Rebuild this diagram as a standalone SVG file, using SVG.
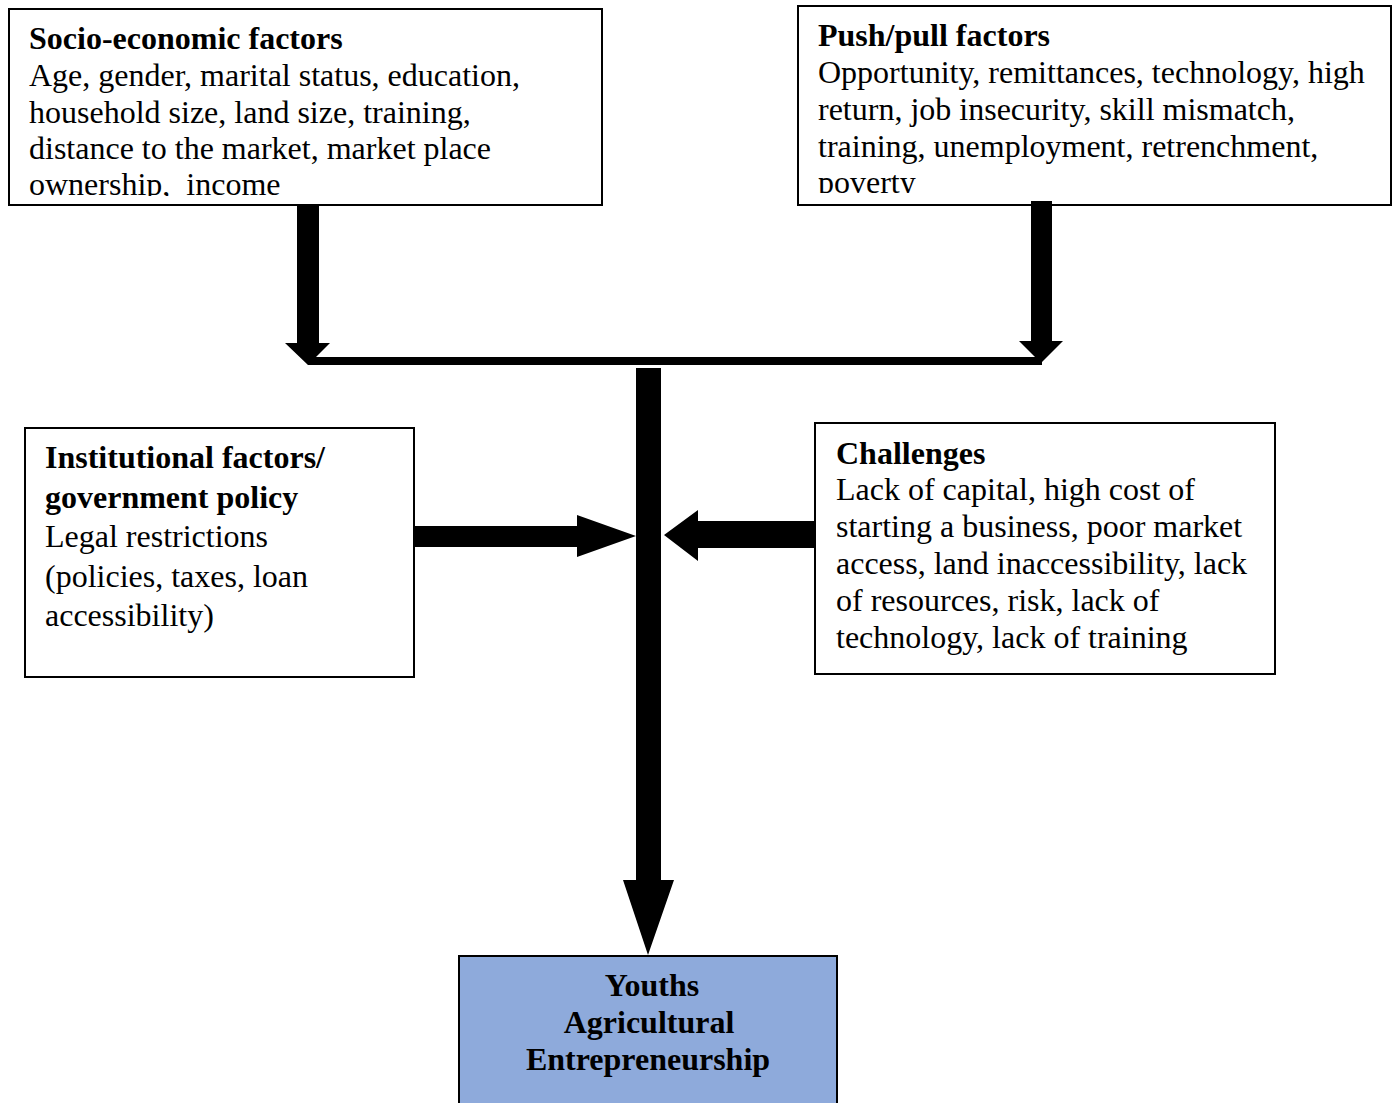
<svg xmlns="http://www.w3.org/2000/svg" width="1397" height="1103" viewBox="0 0 1397 1103">
<style>
.box{fill:#fff;stroke:#000;stroke-width:2}
.t{font-family:"Liberation Serif","Times New Roman",serif;font-size:32px;fill:#000}
.b{font-weight:bold}
.arr{fill:#000}
</style>
<defs>
<clipPath id="c1"><rect x="10" y="10" width="591" height="186"/></clipPath>
<clipPath id="c2"><rect x="799" y="7" width="591" height="186"/></clipPath>
</defs>
<rect width="1397" height="1103" fill="#fff"/>
<g id="socio">
<rect class="box" x="9" y="9" width="593" height="196"/>
<g clip-path="url(#c1)">
<text class="t b" x="29" y="49">Socio-economic factors</text>
<text class="t" x="29" y="86">Age, gender, marital status, education,</text>
<text class="t" x="29" y="123">household size, land size, training,</text>
<text class="t" x="29" y="159">distance to the market, market place</text>
<text class="t" x="29" y="195">ownership,&#160; income</text>
</g>
</g>
<g id="pushpull">
<rect class="box" x="798" y="6" width="593" height="199"/>
<g clip-path="url(#c2)">
<text class="t b" x="818" y="46">Push/pull factors</text>
<text class="t" x="818" y="83">Opportunity, remittances, technology, high</text>
<text class="t" x="818" y="120">return, job insecurity, skill mismatch,</text>
<text class="t" x="818" y="157">training, unemployment, retrenchment,</text>
<text class="t" x="818" y="193">poverty</text>
</g>
</g>
<g id="institutional">
<rect class="box" x="25" y="428" width="389" height="249"/>
<text class="t b" x="45" y="468">Institutional factors/</text>
<text class="t b" x="45" y="508">government policy</text>
<text class="t" x="45" y="547">Legal restrictions</text>
<text class="t" x="45" y="587">(policies, taxes, loan</text>
<text class="t" x="45" y="626">accessibility)</text>
</g>
<g id="challenges">
<rect class="box" x="815" y="423" width="460" height="251"/>
<text class="t b" x="836" y="464">Challenges</text>
<text class="t" x="836" y="500">Lack of capital, high cost of</text>
<text class="t" x="836" y="537">starting a business, poor market</text>
<text class="t" x="836" y="574">access, land inaccessibility, lack</text>
<text class="t" x="836" y="611">of resources, risk, lack of</text>
<text class="t" x="836" y="648">technology, lack of training</text>
</g>
<g id="outcome">
<rect x="459" y="956" width="378" height="160" fill="#8EAADB" stroke="#000" stroke-width="2"/>
<text class="t b" x="652" y="996" text-anchor="middle">Youths</text>
<text class="t b" x="649" y="1033" text-anchor="middle">Agricultural</text>
<text class="t b" x="648" y="1070" text-anchor="middle">Entrepreneurship</text>
</g>
<g id="connectors">
<polygon class="arr" points="297,205 319,205 319,343 330,343 308,365 285,343 297,343"/>
<polygon class="arr" points="1031,201 1052,201 1052,341 1063,341 1041,363 1019,341 1031,341"/>
<rect class="arr" x="308" y="357" width="734" height="8"/>
<polygon class="arr" points="636,368 661,368 661,880 674,880 648,955 623,880 636,880"/>
<polygon class="arr" points="415,526 577,526 577,515 636,536 577,557 577,547 415,547"/>
<polygon class="arr" points="815,521 815,548 698,548 698,561 664,535 698,510 698,521"/>
</g>
</svg>
